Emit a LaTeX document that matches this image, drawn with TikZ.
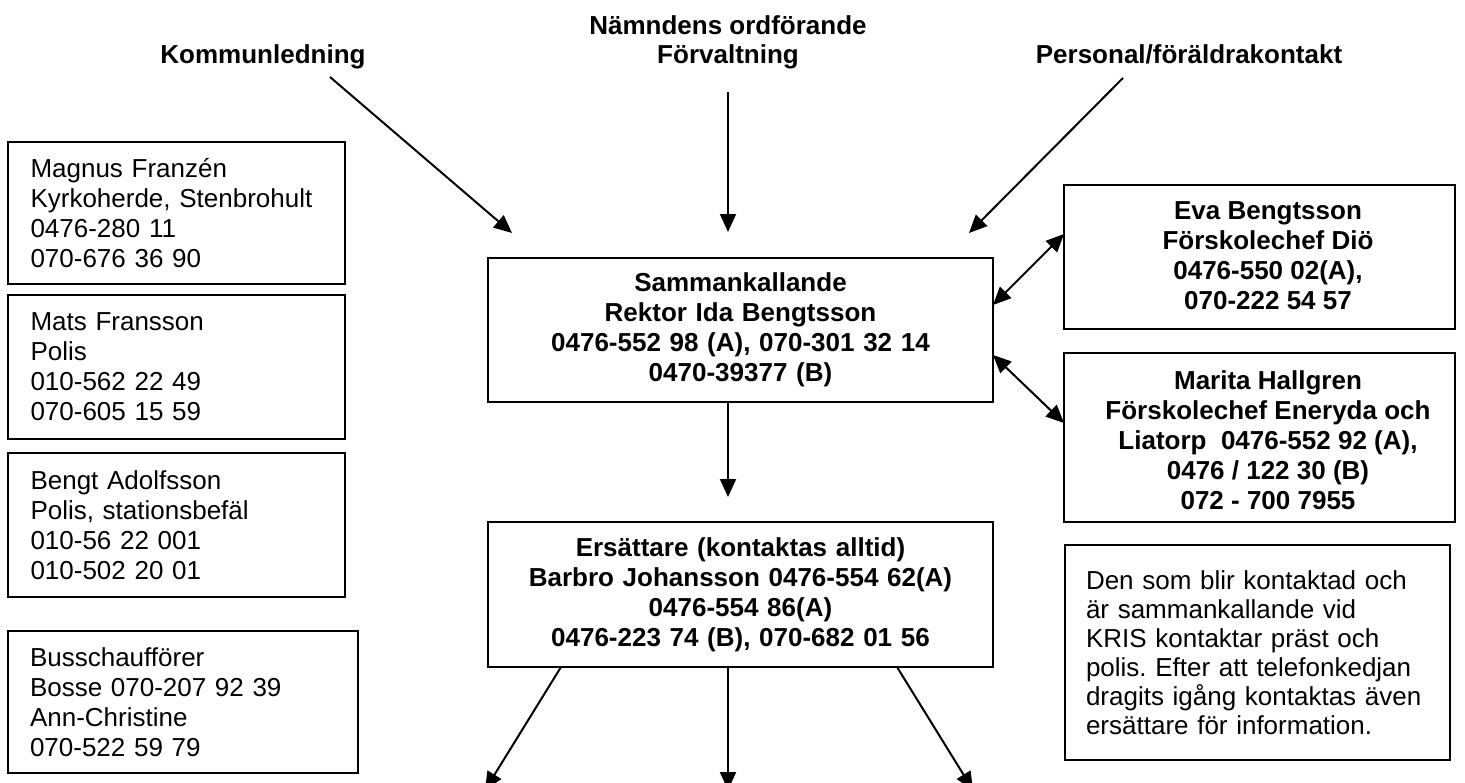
\documentclass[tikz,border=0pt]{standalone}
\usepackage{fontspec}
\setmainfont{Liberation Sans}
\usetikzlibrary{arrows.meta}
\frenchspacing
\begin{document}
\begin{tikzpicture}[x=0.5pt,y=-0.5pt,
  every node/.style={font=\fontsize{13}{15}\selectfont},
  lbox/.style={draw, line width=0.95pt, inner xsep=11pt, inner ysep=0pt, align=left, text width=146pt, minimum width=168.5pt},
  cbox/.style={draw, line width=0.95pt, inner sep=0pt, align=center, text width=252.5pt, font=\fontsize{13}{15}\selectfont\bfseries},
  rbox/.style={draw, line width=0.95pt, minimum width=195.5pt, inner sep=0pt},
  rtext/.style={align=center, inner sep=0pt, font=\fontsize{13}{15}\selectfont\bfseries},
  ttl/.style={anchor=base, inner sep=0pt, font=\fontsize{13}{15}\selectfont\bfseries},
  arr/.style={line width=1pt, -{Triangle[length=9pt,width=8pt]}},
  darr/.style={line width=1pt, {Triangle[length=9pt,width=8pt]}-{Triangle[length=9pt,width=8pt]}},
]
\useasboundingbox (0,0) rectangle (1465,782);
\clip (0,0) rectangle (1465,782);

% titles
\node[ttl] (kom) at (263,63) {Kommunledning};
\node[ttl] (nam) at (728,34) {Nämndens ordförande};
\node[ttl] (forv) at (728,63) {Förvaltning};
\node[ttl] (pers) at (1189,63) {Personal/föräldrakontakt};

% left boxes
\node[lbox, minimum height=71pt] (mf) at (176.5,213) {Magnus Franzén\\Kyrkoherde, Stenbrohult\\0476-280 11\\070-676 36 90};
\node[lbox, minimum height=72pt] (mt) at (176.5,367) {Mats Fransson\\Polis\\010-562 22 49\\070-605 15 59};
\node[lbox, minimum height=72pt] (ba) at (176.5,525) {Bengt Adolfsson\\Polis, stationsbefäl\\010-56 22 001\\010-502 20 01};
\node[lbox, minimum height=71pt, text width=153pt, minimum width=175pt] (bu) at (183,702) {Busschaufförer\\Bosse 070-207 92 39\\Ann-Christine\\070-522 59 79};

% centre boxes
\node[cbox, minimum height=72pt] (S) at (740.5,330) {Sammankallande\\Rektor Ida Bengtsson\\0476-552 98 (A), 070-301 32 14\\0470-39377 (B)};
\node[cbox, minimum height=72.5pt] (E) at (740.5,594.5) {Ersättare (kontaktas alltid)\\Barbro Johansson 0476-554 62(A)\\0476-554 86(A)\\0476-223 74 (B), 070-682 01 56};

% right boxes
\node[rbox, minimum height=72pt] (eva) at (1259.5,257) {};
\node[rtext] (evat) at (1268,256) {Eva Bengtsson\\Förskolechef Diö\\0476-550 02(A),\\070-222 54 57};
\node[rbox, minimum height=84.5pt] (mh) at (1259.5,437.5) {};
\node[rtext] (mht) at (1268,440.5) {Marita Hallgren\\Förskolechef Eneryda och\\Liatorp\ \ 0476-552 92 (A),\\0476 / 122 30 (B)\\072 - 700 7955};

\node[draw, line width=0.95pt, inner xsep=10.5pt, inner ysep=0pt, align=left, text width=171.5pt, minimum height=107.5pt, font=\fontsize{13}{14.5}\selectfont] (note) at (1257.5,652.5) {Den som blir kontaktad och\\är sammankallande vid\\KRIS kontaktar präst och\\polis. Efter att telefonkedjan\\dragits igång kontaktas även\\ersättare för information.};

% connector end points
\coordinate (k1) at (330,77);  \coordinate (k2) at (512,233);
\coordinate (f1) at (728,92);  \coordinate (f2) at (728,232);
\coordinate (p1) at (1123,78); \coordinate (p2) at (969,233);
\coordinate (sa) at (993,305); \coordinate (ea) at (1064,234);
\coordinate (sb) at (993,355); \coordinate (ma) at (1064,423);
\coordinate (s1) at (728,402); \coordinate (e0) at (728,497);
\coordinate (el) at (561,667); \coordinate (ol) at (485,790);
\coordinate (em) at (728,667); \coordinate (om) at (728,790);
\coordinate (er) at (897,667); \coordinate (or) at (973,790);

\draw[arr] (k1) -- (k2);
\draw[arr] (f1) -- (f2);
\draw[arr] (p1) -- (p2);
\draw[darr] (sa) -- (ea);
\draw[darr] (sb) -- (ma);
\draw[arr] (s1) -- (e0);
\draw[arr] (el) -- (ol);
\draw[arr] (em) -- (om);
\draw[arr] (er) -- (or);
\end{tikzpicture}
\end{document}
